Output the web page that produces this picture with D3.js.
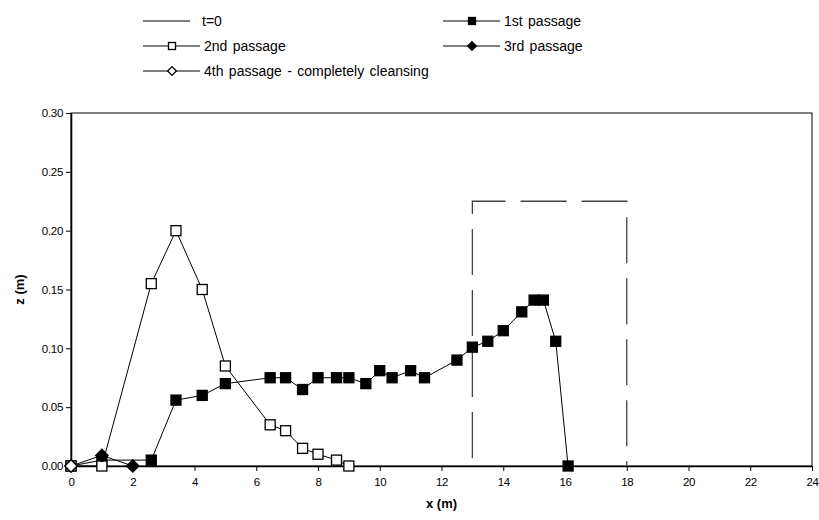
<!DOCTYPE html>
<html>
<head>
<meta charset="utf-8">
<script src="https://cdn.jsdelivr.net/npm/d3@7"></script>
<style>
  html, body { margin: 0; padding: 0; background: #fff; }
  svg { display: block; font-family: "Liberation Sans", Arial, sans-serif; }
  .tick text { font-size: 11.5px; fill: #000; letter-spacing: -0.3px; }
</style>
</head>
<body>
<svg id="chart" width="819" height="520"></svg>
<script>
// Bed profile z(x) after successive flushing passages.

const xTicks = [0, 2, 4, 6, 8, 10, 12, 14, 16, 18, 20, 22, 24];
const zTicks = [0, 0.05, 0.10, 0.15, 0.20, 0.25, 0.30];

// t=0 deposit (dashed box)
const t0X = [13, 13, 18, 18];
const t0Z = [0, 0.225, 0.225, 0];

const pass1X = [0, 1, 2.6, 3.4, 4.25, 5, 6.45, 6.95, 7.5, 8, 8.6, 9, 9.55, 10, 10.4, 11, 11.45, 12.5, 13, 13.5, 14, 14.6, 15, 15.3, 15.7, 16.1];
const pass1Z = [0, 0.005, 0.005, 0.056, 0.06, 0.07, 0.075, 0.075, 0.065, 0.075, 0.075, 0.075, 0.07, 0.081, 0.075, 0.081, 0.075, 0.09, 0.101, 0.106, 0.115, 0.131, 0.141, 0.141, 0.106, 0];

const pass2X = [0, 1, 2.6, 3.4, 4.25, 5, 6.45, 6.95, 7.5, 8, 8.6, 9];
const pass2Z = [0, 0, 0.155, 0.2, 0.15, 0.085, 0.035, 0.03, 0.015, 0.01, 0.005, 0];

const pass3X = [0, 1, 2];
const pass3Z = [0, 0.009, 0];

const pass4X = [0];
const pass4Z = [0];

const seriesNames = ["t=0", "1st passage", "2nd passage", "3rd passage", "4th passage - completely cleansing"];

const margin = { top: 113, right: 7, bottom: 54, left: 71 };
const W = 819, H = 520;

const svg = d3.select("#chart");

const x = d3.scaleLinear().domain([0, 24]).range([margin.left, W - margin.right]);
const y = d3.scaleLinear().domain([0, 0.30]).range([H - margin.bottom, margin.top]);

const zip = (xs, zs) => xs.map((v, i) => ({ x: v, z: zs[i] }));

const series = [
  { name: seriesNames[0], pts: zip(t0X, t0Z), marker: null, dash: "46,15" },
  { name: seriesNames[1], pts: zip(pass1X, pass1Z), marker: "square", fill: "#000" },
  { name: seriesNames[2], pts: zip(pass2X, pass2Z), marker: "square", fill: "#fff" },
  { name: seriesNames[3], pts: zip(pass3X, pass3Z), marker: "diamond", fill: "#000" },
  { name: seriesNames[4], pts: zip(pass4X, pass4Z), marker: "diamond", fill: "#fff" },
];

// plot frame
svg.append("rect")
  .attr("x", x(0)).attr("y", y(0.30))
  .attr("width", x(24) - x(0)).attr("height", y(0) - y(0.30))
  .attr("fill", "none").attr("stroke", "#000").attr("stroke-width", 1);

// axes
const gx = svg.append("g")
  .attr("transform", `translate(0,${y(0)})`)
  .call(d3.axisBottom(x).tickValues(xTicks).tickSize(5).tickSizeOuter(0).tickFormat(d3.format("d")));
const gy = svg.append("g")
  .attr("transform", `translate(${x(0)},0)`)
  .call(d3.axisLeft(y).tickValues(zTicks).tickSize(5).tickSizeOuter(0).tickFormat(d3.format(".2f")));

gx.select(".domain").attr("stroke", "#000").attr("stroke-width", 1.6);
gy.select(".domain").attr("stroke", "#000").attr("stroke-width", 1.6);
gx.selectAll(".tick line").attr("stroke", "#000");
gy.selectAll(".tick line").attr("stroke", "#000");
gx.selectAll(".tick text").attr("dy", "1.1em").attr("y", 7);
gy.selectAll(".tick text").attr("x", -8);

svg.append("text")
  .attr("x", (x(0) + x(24)) / 2).attr("y", 508)
  .attr("text-anchor", "middle")
  .attr("font-size", 13).attr("font-weight", "bold")
  .text("x (m)");

svg.append("text")
  .attr("transform", `translate(24,${(y(0) + y(0.30)) / 2}) rotate(-90)`)
  .attr("text-anchor", "middle")
  .attr("font-size", 13).attr("font-weight", "bold")
  .text("z (m)");

function drawMarker(g, type, fill, size) {
  if (type === "square") {
    g.append("rect")
      .attr("x", -size / 2).attr("y", -size / 2)
      .attr("width", size).attr("height", size)
      .attr("fill", fill).attr("stroke", "#000").attr("stroke-width", 1.3);
  } else if (type === "diamond") {
    const s = size * 0.62;
    g.append("path")
      .attr("d", `M0,${-s}L${s},0L0,${s}L${-s},0Z`)
      .attr("fill", fill).attr("stroke", "#000").attr("stroke-width", 1.3);
  }
}

const line = d3.line().x((d) => x(d.x)).y((d) => y(d.z));

for (const s of series) {
  const p = svg.append("path")
    .datum(s.pts)
    .attr("d", line)
    .attr("fill", "none")
    .attr("stroke", s.dash ? "#444" : "#000")
    .attr("stroke-width", s.dash ? 1.3 : 1);
  // phase chosen so the top-left corner of the box is drawn solid
  if (s.dash) p.attr("stroke-dasharray", s.dash).attr("stroke-dashoffset", 53);

  if (s.marker) {
    for (const d of s.pts) {
      const g = svg.append("g").attr("transform", `translate(${x(d.x)},${y(d.z)})`);
      drawMarker(g, s.marker, s.fill, 10);
    }
  }
}

// legend
const legendPos = [
  { lx: 143, ly: 21 },
  { lx: 443, ly: 21 },
  { lx: 143, ly: 46 },
  { lx: 443, ly: 46 },
  { lx: 143, ly: 71 },
];
const leg = svg.append("g").attr("font-size", 14).attr("word-spacing", 1.5);
series.forEach((s, i) => {
  const p = legendPos[i];
  const g = leg.append("g").attr("transform", `translate(${p.lx},${p.ly})`);
  if (s.dash) {
    g.append("line").attr("x1", 0).attr("x2", 47).attr("stroke", "#000").attr("stroke-width", 1);
  } else {
    g.append("line").attr("x1", 0).attr("x2", 57).attr("stroke", "#000").attr("stroke-width", 1);
    const m = g.append("g").attr("transform", "translate(29,0)");
    drawMarker(m, s.marker, s.fill, 7);
  }
  g.append("text")
    .attr("x", s.dash ? 59 : 61).attr("dy", "0.35em")
    .attr("fill", "#000")
    .text(s.name);
});
</script>
</body>
</html>
